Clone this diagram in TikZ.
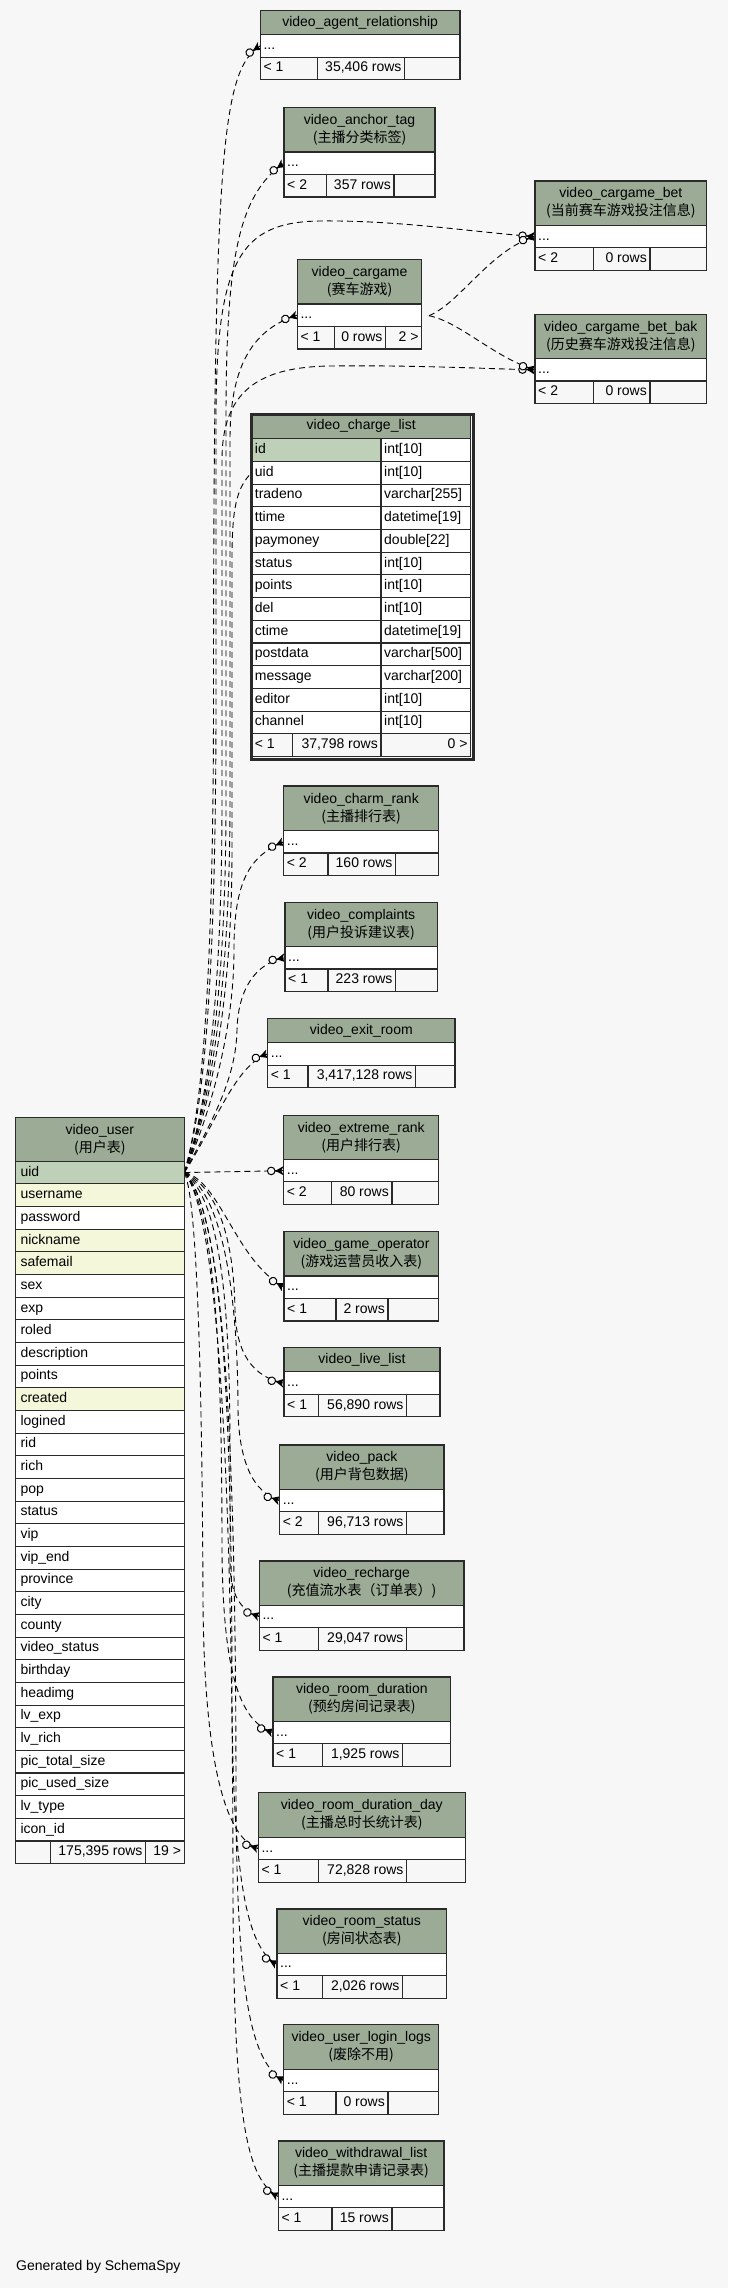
\documentclass[tikz,border=0pt]{standalone}
\usepackage{fontspec}
\setmainfont{Liberation Sans}
\newfontfamily\cjk{Noto Sans CJK SC}
\usetikzlibrary{decorations.markings}
\definecolor{bgc}{HTML}{F7F7F7}
\definecolor{hdrc}{HTML}{9BAB96}
\definecolor{pkc}{HTML}{BED1B8}
\definecolor{idxc}{HTML}{F4F7DA}
\definecolor{linec}{HTML}{2A2A2A}
\pgfdeclarelayer{paper}
\pgfdeclarelayer{edges}
\pgfsetlayers{paper,edges,main}

\newcommand\crowodot{%
  \draw[solid, line width=1pt, draw=black, fill=bgc] (-12.5,0) circle[radius=3.8];
  \fill[black] (-8.5,0) -- (0,4.6) -- (-2.5,0) -- (0,-4.6) -- cycle;
  \draw[solid, line width=1pt, black] (-8.5,0) -- (0,0);
}

\newcommand\mktable[6]{%
  \pgfmathsetmacro\tbw{#3-#2}%
  \pgfmathsetmacro\tbr{#4+#5}%
  \pgfmathsetmacro\tbf{#4+#5+22.4}%
  \xdef\tbxa{#2}\xdef\tbxb{#3}\xdef\tbft{\tbf}%
  \node[hdrcell, anchor=north west, minimum width=\tbw pt, minimum height=#5 pt] (#1-h) at (#2,#4) {#6};
  \node[rowcell, anchor=north west, minimum width=\tbw pt, minimum height=22.4pt] (#1) at (#2,\tbr) {};
  \node[lbl] (#1-t) at (#1.west) {...};
}
\newcommand\mkfoot[6]{%
  \pgfmathsetmacro\fwa{#2-\tbxa}%
  \pgfmathsetmacro\fwb{#3-#2}%
  \pgfmathsetmacro\fwc{\tbxb-#3}%
  \node[footcell, anchor=north west, minimum width=\fwa pt, minimum height=22.6pt] (#1-fa) at (\tbxa,\tbft) {};
  \node[footcell, anchor=north west, minimum width=\fwb pt, minimum height=22.6pt] (#1-fb) at (#2,\tbft) {};
  \node[footcell, anchor=north west, minimum width=\fwc pt, minimum height=22.6pt] (#1-fc) at (#3,\tbft) {};
  \node[lbl] (#1-fat) at (#1-fa.west) {#4};
  \node[rlbl] (#1-fbt) at (#1-fb.east) {#5};
  \node[rlbl] (#1-fct) at (#1-fc.east) {#6};
}

\begin{document}
\begin{tikzpicture}[x=1pt,y=-1pt,
  txt/.style={font=\fontsize{14}{18}\selectfont},
  cellbox/.style={draw=linec, line width=1.1pt, inner sep=0pt, outer sep=0pt},
  hdrcell/.style={cellbox, fill=hdrc, align=center, txt},
  rowcell/.style={cellbox, fill=white},
  footcell/.style={cellbox, fill=bgc},
  lbl/.style={txt, inner sep=3pt, anchor=west, text height=10pt, text depth=3pt},
  rlbl/.style={txt, inner sep=3pt, anchor=east, text height=10pt, text depth=3pt},
  fk/.style={draw=black, dash pattern=on 6pt off 4pt, line width=0.9pt,
    postaction={decorate},
    decoration={markings, mark=at position 1 with {\crowodot}}}
]
\useasboundingbox (0,0) rectangle (728,2288);
\begin{pgfonlayer}{paper}
\fill[bgc] (0,0) rectangle (728,2288);
\end{pgfonlayer}

% ---- small tables ----
\mktable{agent}{260.3}{460}{10.3}{24.4}{video\_agent\_relationship}
\mkfoot{agent}{317.3}{404.7}{< 1}{35,406 rows}{}
\mktable{anchor}{284}{435}{107.7}{44.3}{video\_anchor\_tag\\{\cjk(主播分类标签)}}
\mkfoot{anchor}{326.7}{394}{< 2}{357 rows}{}
\mktable{cb}{535}{706.7}{181}{44.3}{video\_cargame\_bet\\{\cjk(当前赛车游戏投注信息)}}
\mkfoot{cb}{593.3}{650}{< 2}{0 rows}{}
\mktable{cargame}{297.3}{421.7}{259.7}{44.3}{video\_cargame\\{\cjk(赛车游戏)}}
\mkfoot{cargame}{334.7}{385.7}{< 1}{0 rows}{2 >}
\mktable{bbak}{535}{706.7}{314.3}{44.3}{video\_cargame\_bet\_bak\\{\cjk(历史赛车游戏投注信息)}}
\mkfoot{bbak}{593.3}{650}{< 2}{0 rows}{}
\mktable{charm}{283.7}{438.7}{786}{44.6}{video\_charm\_rank\\{\cjk(主播排行表)}}
\mkfoot{charm}{328}{395.7}{< 2}{160 rows}{}
\mktable{compl}{285}{437.3}{902.3}{44.3}{video\_complaints\\{\cjk(用户投诉建议表)}}
\mkfoot{compl}{328}{395.7}{< 1}{223 rows}{}
\mktable{exit}{267.7}{455}{1018.3}{24.4}{video\_exit\_room}
\mkfoot{exit}{308}{415.7}{< 1}{3,417,128 rows}{}
\mktable{ext}{283.7}{438.7}{1115.7}{43.8}{video\_extreme\_rank\\{\cjk(用户排行表)}}
\mkfoot{ext}{331.7}{392}{< 2}{80 rows}{}
\mktable{gop}{284}{438.7}{1231.7}{44.3}{video\_game\_operator\\{\cjk(游戏运营员收入表)}}
\mkfoot{gop}{336}{388}{< 1}{2 rows}{}
\mktable{live}{284}{440}{1347.7}{24.2}{video\_live\_list}
\mkfoot{live}{318.7}{406.7}{< 1}{56,890 rows}{}
\mktable{pack}{279.7}{444}{1445}{44.3}{video\_pack\\{\cjk(用户背包数据)}}
\mkfoot{pack}{318.7}{406.7}{< 2}{96,713 rows}{}
\mktable{rech}{259.3}{464}{1561}{44.2}{video\_recharge\\{\cjk(充值流水表（订单表）)}}
\mkfoot{rech}{318.7}{406.7}{< 1}{29,047 rows}{}
\mktable{rdur}{273}{450.7}{1677}{44.3}{video\_room\_duration\\{\cjk(预约房间记录表)}}
\mkfoot{rdur}{322.7}{402.7}{< 1}{1,925 rows}{}
\mktable{rdday}{258.3}{465.3}{1792.7}{44.6}{video\_room\_duration\_day\\{\cjk(主播总时长统计表)}}
\mkfoot{rdday}{318.7}{406.7}{< 1}{72,828 rows}{}
\mktable{rstat}{277}{446.7}{1909}{44.2}{video\_room\_status\\{\cjk(房间状态表)}}
\mkfoot{rstat}{322.7}{402.7}{< 1}{2,026 rows}{}
\mktable{ull}{283.7}{438.7}{2024.7}{44.6}{video\_user\_login\_logs\\{\cjk(废除不用)}}
\mkfoot{ull}{336}{388}{< 1}{0 rows}{}
\mktable{wd}{278.3}{444}{2141}{44.3}{video\_withdrawal\_list\\{\cjk(主播提款申请记录表)}}
\mkfoot{wd}{332}{392}{< 1}{15 rows}{}

% ---- video_charge_list ----
\node[hdrcell, anchor=north west, minimum width=219pt, minimum height=24.7pt] (cl-h) at (251.7,414) {video\_charge\_list};
\node[cellbox, fill=pkc, anchor=north west, minimum width=129.3pt, minimum height=22.7pt] (cl-0) at (251.7,438.7) {};
\node[rowcell, anchor=north west, minimum width=89.7pt, minimum height=22.7pt] (cl-0-ty) at (381,438.7) {};
\node[lbl] (cl-0-t) at (cl-0.west) {id};
\node[lbl] (cl-0-tt) at (cl-0-ty.west) {int[10]};
\foreach \nm/\ty [count=\i from 1] in {uid/int[10], tradeno/varchar[255], ttime/datetime[19], paymoney/double[22], status/int[10], points/int[10], del/int[10], ctime/datetime[19], postdata/varchar[500], message/varchar[200], editor/int[10], channel/int[10]}{
  \pgfmathsetmacro\yy{438.7+22.7*\i}
  \node[rowcell, anchor=north west, minimum width=129.3pt, minimum height=22.7pt] (cl-\i) at (251.7,\yy) {};
  \node[rowcell, anchor=north west, minimum width=89.7pt, minimum height=22.7pt] (cl-\i-ty) at (381,\yy) {};
  \node[lbl] (cl-\i-t) at (cl-\i.west) {\nm};
  \node[lbl] (cl-\i-tt) at (cl-\i-ty.west) {\ty};
}
\node[footcell, anchor=north west, minimum width=41pt, minimum height=22.7pt] (cl-fa) at (251.7,733.8) {};
\node[footcell, anchor=north west, minimum width=88.3pt, minimum height=22.7pt] (cl-fb) at (292.7,733.8) {};
\node[footcell, anchor=north west, minimum width=89.7pt, minimum height=22.7pt] (cl-fc) at (381,733.8) {};
\node[lbl] (cl-fat) at (cl-fa.west) {< 1};
\node[rlbl] (cl-fbt) at (cl-fb.east) {37,798 rows};
\node[rlbl] (cl-fct) at (cl-fc.east) {0 >};
\node[draw=linec, line width=2.8pt, inner sep=0pt, anchor=north west, minimum width=221.8pt, minimum height=344.9pt] (cl-frame) at (250.3,413) {};

% ---- video_user ----
\node[hdrcell, anchor=north west, minimum width=169pt, minimum height=43.8pt] (vu-h) at (15.3,1117.4) {video\_user\\{\cjk(用户表)}};
\foreach \nm/\cc [count=\i from 0] in {uid/pkc, username/idxc, password/white, nickname/idxc, safemail/idxc, sex/white, exp/white, roled/white, description/white, points/white, created/idxc, logined/white, rid/white, rich/white, pop/white, status/white, vip/white, vip\_end/white, province/white, city/white, county/white, video\_status/white, birthday/white, headimg/white, lv\_exp/white, lv\_rich/white, pic\_total\_size/white, pic\_used\_size/white, lv\_type/white, icon\_id/white}{
  \pgfmathsetmacro\yy{1161.2+22.66*\i}
  \node[cellbox, fill=\cc, anchor=north west, minimum width=169pt, minimum height=22.66pt] (vu-\i) at (15.3,\yy) {};
  \node[lbl, xshift=2pt] (vu-\i-t) at (vu-\i.west) {\nm};
}
\node[footcell, anchor=north west, minimum width=35pt, minimum height=22.66pt] (vu-fa) at (15.3,1841) {};
\node[footcell, anchor=north west, minimum width=95.4pt, minimum height=22.66pt] (vu-fb) at (50.3,1841) {};
\node[footcell, anchor=north west, minimum width=38.6pt, minimum height=22.66pt] (vu-fc) at (145.7,1841) {};
\node[rlbl] (vu-fbt) at (vu-fb.east) {175,395 rows};
\node[rlbl] (vu-fct) at (vu-fc.east) {19 >};

\node[txt, anchor=west, inner sep=0pt] (gen) at (16,2266.7) {Generated by SchemaSpy};

% ---- connectors ----
\begin{pgfonlayer}{edges}
\coordinate (cgout) at (429,315.7);
\draw[fk] (vu-0.east) .. controls (200,1120) and (213.5,1000) .. (213.5,700) .. controls (213.5,150) and (222,70) .. (agent.west);
\draw[fk] (vu-0.east) .. controls (202,1115) and (216,1000) .. (216,700) -- (216,420) .. controls (216,260) and (240,222) .. (320,221) .. controls (400,220) and (480,233) .. (cb.west);
\draw[fk] (vu-0.east) .. controls (205,1115) and (226,1010) .. (226,800) -- (226,420) .. controls (226,260) and (238,195) .. (anchor.west);
\draw[fk] (vu-0.east) .. controls (206,1115) and (230,1010) .. (230,800) -- (230,440) .. controls (230,370) and (250,330) .. (cargame.west);
\draw[fk] (vu-0.east) .. controls (205,1115) and (222,1010) .. (222,800) -- (222,460) .. controls (222,390) and (260,367) .. (330,366) .. controls (420,365) and (490,369) .. (bbak.west);
\draw[fk] (vu-0.east) .. controls (208,1115) and (232,1010) .. (232,850) -- (232,560) .. controls (232,510) and (236,488) .. (cl-1.west);
\draw[fk] (vu-0.east) .. controls (210,1115) and (234,1030) .. (234,950) .. controls (234,880) and (250,856) .. (charm.west);
\draw[fk] (vu-0.east) .. controls (210,1125) and (236,1080) .. (237,1030) .. controls (238,990) and (255,963) .. (compl.west);
\draw[fk] (vu-0.east) .. controls (215,1125) and (235,1065) .. (exit.west);
\draw[fk] (vu-0.east) -- (ext.west);
\draw[fk] (vu-0.east) .. controls (220,1180) and (235,1260) .. (gop.west);
\draw[fk] (vu-0.east) .. controls (222,1190) and (234,1250) .. (235,1310) .. controls (236,1352) and (252,1377) .. (live.west);
\draw[fk] (vu-0.east) .. controls (224,1195) and (238,1300) .. (238,1410) .. controls (239,1460) and (252,1492) .. (pack.west);
\draw[fk] (vu-0.east) .. controls (220,1200) and (230,1300) .. (230,1450) -- (230,1560) .. controls (230,1595) and (240,1610) .. (rech.west);
\draw[fk] (vu-0.east) .. controls (215,1210) and (222,1350) .. (222,1550) .. controls (223,1680) and (242,1722) .. (rdur.west);
\draw[fk] (vu-0.east) .. controls (196,1195) and (202,1350) .. (203,1600) .. controls (204,1760) and (225,1838) .. (rdday.west);
\draw[fk] (vu-0.east) .. controls (222,1210) and (232,1400) .. (232,1700) .. controls (233,1880) and (247,1948) .. (rstat.west);
\draw[fk] (vu-0.east) .. controls (225,1210) and (236,1450) .. (236,1800) .. controls (237,1990) and (250,2062) .. (ull.west);
\draw[fk] (vu-0.east) .. controls (220,1215) and (233,1500) .. (233,1900) .. controls (234,2120) and (247,2180) .. (wd.west);
\draw[fk] (cgout) .. controls (460,303) and (490,250) .. (cb.west);
\draw[fk] (cgout) .. controls (460,322) and (495,358) .. (bbak.west);
\end{pgfonlayer}
\end{tikzpicture}
\end{document}
